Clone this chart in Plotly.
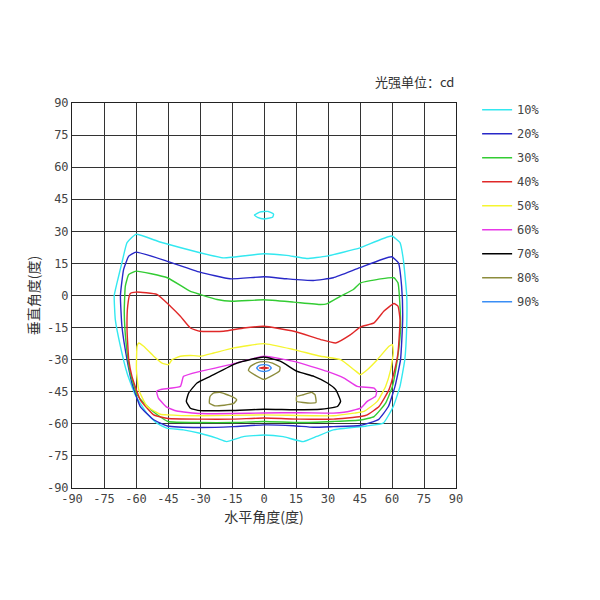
import plotly.graph_objects as go

# Isocandela contours: horizontal angle (h) and vertical angle (v), degrees
c10_h = [-60, -48.75, -30, -19, 0, 10.6, 20, 29.4, 45, 59.8, 63.75, 65.3, 66.9, 66.9, 66, 63.75, 60.6, 55.9, 48,
         32.5, 24.7, 18.4, 9, 0, -9.7, -17.5, -22.2, -30, -37.8, -45.6, -50.2, -55, -60.4, -64.2, -67.3, -69.7,
         -70.2, -68.9, -66.6, -64.2]
c10_v = [28.6, 25, 20, 17.6, 19.5, 18.75, 17.3, 18.4, 22.3, 27.8, 24.7, 16.9, 0, -14.4, -30, -42.5, -51.9, -59.7, -61,
         -62.8, -65.9, -68.3, -66, -65.2, -66, -68.3, -66.7, -64.4, -62.8, -62, -59.7, -55, -46.4, -36.25, -23.75, -11.25,
         0, 5.9, 15.3, 24.7]
c10i_h = [-4.5, -2, 2, 4.5, 4, 0, -3]
c10i_v = [37.6, 39, 39.3, 38, 36.6, 35.8, 36.5]

c20_h = [-60, -45.6, -30, -15.9, 0, 10.6, 23.1, 32.5, 45, 59.8, 63, 64.5, 65, 64, 61.4, 58.3, 53.6, 45, 32.5, 23.1,
         13.75, 0, -14.4, -30, -45.3, -51.7, -58, -61.9, -64.2, -66.6, -67.3, -65.8, -63.4]
c20_v = [20.3, 16.1, 10.9, 7.8, 8.75, 7.8, 7, 8.3, 13, 18.1, 15.3, 4.4, -11.25, -30, -42.5, -51.9, -58, -60.8, -61.3,
         -61.6, -60.9, -60.5, -61.3, -61.7, -61, -58.1, -51.9, -40.9, -30, -14.4, 0, 12.2, 18.4]

c30_h = [-60, -45.3, -34.7, -30, -22, -15, 0, 14, 26.6, 29.4, 35.9, 41.9, 45.3, 54.7, 60.9, 62.8, 63.75, 64, 62.5,
         60.2, 57, 51.6, 45.3, 32.5, 16.9, 0, -14.4, -30, -45, -50.3, -54.5, -59.5, -62.7, -64.5, -65.5, -65, -63.4]
c30_v = [11.4, 8.3, 2, 0.5, -1.9, -2.7, -2, -3.1, -4.2, -3.9, -0.3, 2.8, 5.9, 7.8, 8.3, 5.9, -5, -15.9, -30,
         -42.5, -50.3, -56.6, -58.2, -58.9, -59.4, -58.9, -59.4, -59.4, -58.9, -55.5, -52, -46.4, -36.25, -23.75, -8.1,
         4.4, 9.8]

c40_h = [-62.7, -60, -50.2, -43.9, -39.2, -34.5, -30, -18.9, -9.5, 0, 14, 26.6, 33.6, 40.6, 45.3, 51.6, 56.25, 60.9,
         62.8, 63.75, 62.8, 60.9, 58.6, 53.9, 48.4, 45.3, 32.5, 16.9, 0, -14.4, -30, -45, -51.7, -58, -61.9, -63.4,
         -64.2, -63.9]
c40_v = [0.9, 1.6, 0.5, -5, -9.7, -15.2, -16.7, -16.7, -15.2, -14.4, -16.7, -20.6, -22.2, -18.3, -14.7, -12.8, -7.3,
         -3.75, -5, -11.25, -26.9, -36.25, -44, -51.9, -55.8, -56.6, -57.8, -57.8, -57.3, -57.8, -57.8, -57.5, -55.8,
         -48.75, -37.8, -30, -16, -5]

c50_h = [-58.75, -56.4, -51.7, -47.8, -44.7, -43.1, -39.2, -33, -29.8, -23.6, -14.2, 0, 14, 26.6, 35.9, 42.2, 45.3,
         48.4, 53.1, 58.6, 60.2, 60.6, 59.4, 57, 53.1, 46.9, 42.2, 32.5, 0, -30, -45.6, -48.6, -54.8, -58.75, -59.8,
         -59.5]
c50_v = [-22.2, -23.75, -28.4, -31.6, -32.3, -30, -28.4, -28.1, -28.4, -26.9, -24.5, -22.5, -25.3, -28.4, -30, -34.7,
         -37, -34.7, -30, -23.75, -23, -26.9, -34.7, -42.5, -49.5, -54.2, -55, -56.25, -55.8, -56.25, -55.8, -55.5,
         -51.9, -44, -34.7, -23.75]

c60_h = [-50.3, -48.6, -39.2, -37.7, -30, -15.8, 0, 14, 29.7, 37.5, 43.75, 51.6, 52.8, 52.3, 48.4, 45.3, 37.5, 32.5,
         16.9, 0, -14.4, -30, -40.9, -45.6, -49.5]
c60_v = [-44.8, -44, -42.5, -37.8, -35.5, -32.3, -28.4, -30.8, -35.5, -38.6, -42.5, -43.3, -44.8, -47.2, -49.5, -52.7,
         -54.6, -55, -54.8, -54.9, -55.2, -55.2, -54, -52.2, -48]

c70_h = [0, 7.8, 15.6, 23.4, 29.7, 33.6, 35.9, 34.4, 26.6, 14, 0, -15.8, -30, -34.5, -36.4, -35.3, -31.4, -25.2, -12.7]
c70_v = [-28.75, -30.8, -35.5, -37.8, -40.9, -44, -49.5, -51.9, -53.2, -53.4, -53.2, -53.8, -53.8, -52.7, -49.5,
         -45.6, -40.9, -37.8, -31.6]

c80a_h = [-23.75, -20.6, -15.2, -12.8, -14.4, -23, -25.6, -25.3]
c80a_v = [-45.6, -45.3, -47.2, -48.75, -50.6, -51.6, -50.3, -47.2]
c80b_h = [15.3, 18.4, 22.3, 23.9, 24.4, 21.6, 15.3]
c80b_v = [-47.2, -46.4, -45.3, -46.4, -50, -50.3, -49.5]
c80c_h = [0, 4, 7.5, 7.3, 4, 0, -4, -7.3, -6.5, -3.5]
c80c_v = [-30.9, -31.6, -33.5, -35.2, -37.3, -39.2, -37.3, -35, -33.3, -31.5]

c90_h = [-3.4, -2.4, 0, 2.4, 3.4, 2.4, 0, -2.4]
c90_v = [-33.9, -32.8, -32.3, -32.8, -33.9, -35.0, -35.5, -35.0]

c100_h = [-2.3, 0, 2.3, 0]
c100_v = [-33.9, -33.5, -33.9, -34.3]

labels = ["10%", "20%", "30%", "40%", "50%", "60%", "70%", "80%", "90%"]
colors = ["#33e8f0", "#2828c8", "#33cc33", "#e02828", "#f5f530", "#e838e8", "#000000", "#8c8c3c", "#3a8ef5"]

ticks = list(range(-90, 91, 15))

groups = [
    [(c10_h, c10_v), (c10i_h, c10i_v)],
    [(c20_h, c20_v)],
    [(c30_h, c30_v)],
    [(c40_h, c40_v)],
    [(c50_h, c50_v)],
    [(c60_h, c60_v)],
    [(c70_h, c70_v)],
    [(c80a_h, c80a_v), (c80b_h, c80b_v), (c80c_h, c80c_v)],
    [(c90_h, c90_v)],
]


def closed(a):
    return list(a) + [a[0]]


fig = go.Figure()
for i, (lab, col, pieces) in enumerate(zip(labels, colors, groups)):
    for j, (hh, vv) in enumerate(pieces):
        fig.add_trace(go.Scatter(
            x=closed(hh), y=closed(vv), mode="lines",
            line=dict(color=col, width=1.4, shape="spline", smoothing=0.4),
            name=lab, legendgroup=lab, showlegend=(j == 0),
            hoverinfo="skip",
        ))
fig.add_trace(go.Scatter(x=closed(c100_h), y=closed(c100_v), mode="lines",
                         line=dict(color="#e02828", width=1.2), showlegend=False, hoverinfo="skip"))

tickfont = dict(family="DejaVu Sans Mono", size=12, color="#444444")
axis_common = dict(range=[-90, 90], tickmode="array", tickvals=ticks, ticktext=[str(t) for t in ticks],
                   showgrid=True, gridcolor="#333333", gridwidth=1, zeroline=False,
                   showline=True, linecolor="#222222", linewidth=1, mirror=True,
                   ticks="", tickfont=tickfont, fixedrange=True)

fig.update_layout(
    width=600, height=600,
    margin=dict(l=64, r=152, t=95, b=120),
    paper_bgcolor="white", plot_bgcolor="white",
    xaxis=dict(**axis_common,
               title=dict(text="水平角度(度)", font=dict(family="Noto Sans CJK SC", size=14, color="#333333"),
                          standoff=6)),
    yaxis=dict(**axis_common,
               title=dict(text="垂直角度(度)", font=dict(family="Noto Sans CJK SC", size=14, color="#333333"),
                          standoff=4)),
    legend=dict(x=1.055, xanchor="left", xref="paper", y=1.02, yanchor="top", yref="paper",
                font=dict(family="DejaVu Sans Mono", size=12, color="#444444"),
                tracegroupgap=5, traceorder="grouped", itemwidth=30, bgcolor="rgba(0,0,0,0)"),
    annotations=[dict(text="光强单位：cd", x=1.0, y=1.0, xref="paper", yref="paper", xanchor="right",
                      yanchor="bottom", yshift=10, showarrow=False,
                      font=dict(family="Noto Sans CJK SC", size=13, color="#333333"))],
    showlegend=True,
)

fig.write_html("out.html")
